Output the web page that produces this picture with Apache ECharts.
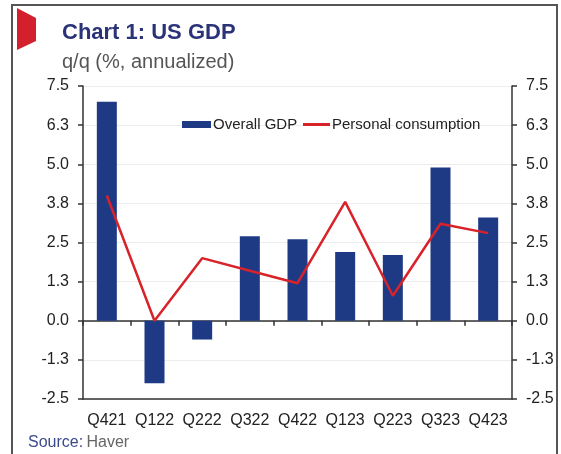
<!DOCTYPE html>
<html>
<head>
<meta charset="utf-8">
<script src="https://cdn.jsdelivr.net/npm/echarts@6/dist/echarts.min.js"></script>
<style>
html,body{margin:0;padding:0;background:#fff;}
#chart{width:561px;height:454px;}
</style>
</head>
<body>
<div id="chart"></div>
<script>
const categories = ['Q421','Q122','Q222','Q322','Q422','Q123','Q223','Q323','Q423'];
const overallGDP = [7.0, -2.0, -0.6, 2.7, 2.6, 2.2, 2.1, 4.9, 3.3];
const personalConsumption = [4.0, 0.0, 2.0, 1.6, 1.2, 3.8, 0.8, 3.1, 2.8];
const yTickValues = [-2.5, -1.25, 0, 1.25, 2.5, 3.75, 5, 6.25, 7.5];
const yTickLabels = ['-2.5','-1.3','0.0','1.3','2.5','3.8','5.0','6.3','7.5'];

const FONT = '"Liberation Sans", Arial, sans-serif';
function yLabel(v){
  const i = yTickValues.findIndex(t => Math.abs(t - v) < 1e-6);
  return i >= 0 ? yTickLabels[i] : '';
}

const chart = echarts.init(document.getElementById('chart'), null, {renderer:'canvas'});
const yAxisCommon = {
  type:'value', min:-2.5, max:7.5, interval:1.25,
  axisLine:{show:true, lineStyle:{color:'#333', width:1.5}},
  axisTick:{show:true, length:5, lineStyle:{color:'#333', width:1.5}},
  axisLabel:{formatter:yLabel, color:'#222', fontFamily:FONT, fontSize:16, margin:14},
  splitLine:{show:false}
};
const legendText = {fontFamily:FONT, fontSize:15, color:'#222', padding:[0,0,0,-3]};
chart.setOption({
  animation:false,
  textStyle:{fontFamily:FONT},
  grid:{left:83, right:49, top:86, bottom:55, containLabel:false},
  legend:[
    {left:182, top:117, padding:0, itemWidth:29, itemHeight:7, icon:'rect',
     textStyle:legendText, data:['Overall GDP']},
    {left:303, top:117, padding:0, itemWidth:27, itemHeight:3, icon:'rect',
     textStyle:legendText, data:['Personal consumption']}
  ],
  xAxis:[
    {type:'category', data:categories, position:'top',
     axisLine:{onZero:true, lineStyle:{color:'#333', width:1.5}},
     axisTick:{show:true, inside:true, length:5, lineStyle:{color:'#333', width:1.5}},
     axisLabel:{show:false}, splitLine:{show:false}},
    {type:'category', data:categories, position:'bottom',
     axisLine:{onZero:false, lineStyle:{color:'#333', width:1.5}},
     axisTick:{show:false},
     axisLabel:{interval:0, color:'#222', fontFamily:FONT, fontSize:16, margin:14}}
  ],
  yAxis:[
    Object.assign({}, yAxisCommon, {position:'left',
      splitLine:{show:true, lineStyle:{color:'#ececec', width:1}}}),
    Object.assign({}, yAxisCommon, {position:'right'})
  ],
  series:[
    {name:'Overall GDP', type:'bar', data:overallGDP, xAxisIndex:0, yAxisIndex:0,
     barWidth:20, itemStyle:{color:'#1f3a85'}},
    {name:'Personal consumption', type:'line', data:personalConsumption, xAxisIndex:0, yAxisIndex:0,
     symbol:'none', lineStyle:{color:'#d8232a', width:2.5}, itemStyle:{color:'#d8232a'}}
  ],
  graphic:[
    {type:'rect', shape:{x:12, y:5, width:545, height:470}, style:{fill:'none', stroke:'#555', lineWidth:2}, silent:true},
    {type:'polygon', shape:{points:[[17,8],[36,18],[36,41],[17,50]]}, style:{fill:'#d3202c'}},
    {type:'text', left:62, top:22, style:{text:'Chart 1: US GDP', font:'bold 22px ' + FONT, fill:'#2a3378'}},
    {type:'text', left:62, top:52, style:{text:'q/q (%, annualized)', font:'20px ' + FONT, fill:'#555'}},
    {type:'text', left:28, top:435, style:{
      text:'{a|Source:} {b|Haver}',
      rich:{a:{fill:'#3a4a8c', font:'16px ' + FONT}, b:{fill:'#666', font:'16px ' + FONT}}}}
  ]
});
</script>
</body>
</html>
